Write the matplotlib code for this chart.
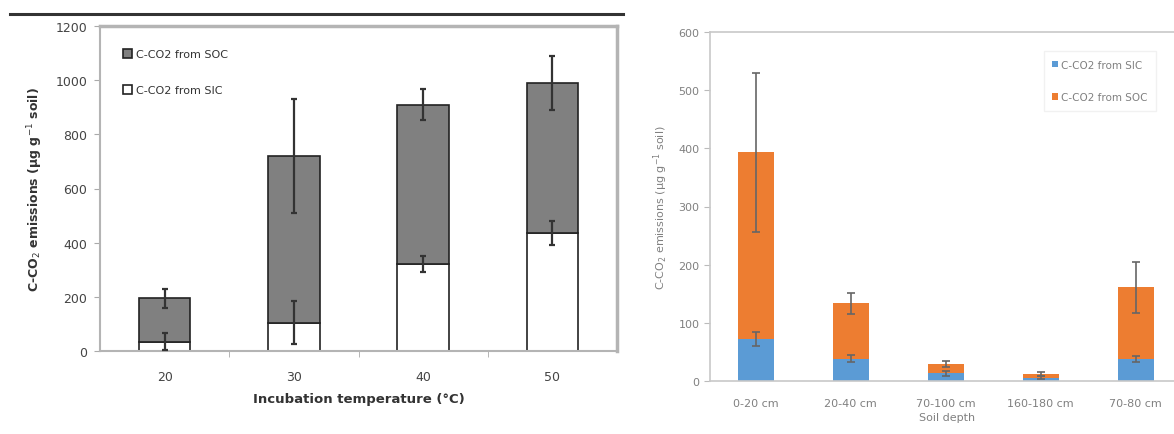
import numpy as np
import matplotlib.pyplot as plt
from matplotlib.lines import Line2D

# left panel: incubation temperature
temps = ["20", "30", "40", "50"]
sic_left = [35, 105, 320, 435]
total_left = [195, 720, 910, 990]
sic_err_left = [30, 80, 30, 45]
total_err_left = [35, 210, 58, 100]
soc_left = [t - s for t, s in zip(total_left, sic_left)]

# right panel: soil depth
depths = ["0-20 cm", "20-40 cm", "70-100 cm", "160-180 cm", "70-80 cm"]
sic_right = [72, 38, 13, 6, 38]
total_right = [393, 134, 29, 12, 161]
sic_err_right = [12, 6, 4, 2, 5]
total_err_right = [137, 18, 5, 3, 44]
soc_right = [t - s for t, s in zip(total_right, sic_right)]

W, H = 1174, 435
fig = plt.figure(figsize=(W / 100, H / 100), dpi=100)

# thick rule above the left panel
fig.add_artist(Line2D([10 / W, 623 / W], [1 - 15 / H, 1 - 15 / H],
                      color="#333333", lw=2.2))

# ---------------- left chart ----------------
ax = fig.add_axes([100 / W, (H - 352) / H, 517 / W, 325 / H])
x = np.arange(len(temps))
bw = 0.4
ax.bar(x, sic_left, bw, color="white", edgecolor="#222222", lw=1.2,
       label="C-CO2 from SIC", zorder=2)
ax.bar(x, soc_left, bw, bottom=sic_left, color="#808080", edgecolor="#222222",
       lw=1.2, label="C-CO2 from SOC", zorder=2)
ax.errorbar(x, total_left, yerr=total_err_left, fmt="none", ecolor="#333333",
            elinewidth=1.6, capsize=2.5, capthick=1.6, zorder=3)
ax.errorbar(x, sic_left, yerr=sic_err_left, fmt="none", ecolor="#333333",
            elinewidth=1.6, capsize=2.5, capthick=1.6, zorder=3)
ax.set_xlim(-0.5, 3.5)
ax.set_ylim(0, 1200)
ax.set_yticks(range(0, 1201, 200))
ax.set_xticks(x)
ax.set_xticklabels(temps)
ax.set_xticks([0.5, 1.5, 2.5], minor=True)
ax.tick_params(axis="x", which="major", length=0, pad=14, labelsize=9,
               labelcolor="#444444")
ax.tick_params(axis="x", which="minor", length=4, color="#aaaaaa", direction="out")
ax.tick_params(axis="y", length=4, color="#aaaaaa", labelsize=9,
               labelcolor="#444444", pad=5)
for s in ax.spines.values():
    s.set_color("#b4b4b4")
    s.set_linewidth(1.5)
ax.spines["top"].set_linewidth(2.5)
ax.spines["right"].set_linewidth(2.5)
ax.set_xlabel("Incubation temperature (°C)", fontsize=9.5, fontweight="bold",
              color="#333333", labelpad=6)
ax.set_ylabel("C-CO$_2$ emissions (μg g$^{-1}$ soil)", fontsize=9,
              fontweight="bold", color="#333333", labelpad=8)
h, l = ax.get_legend_handles_labels()
ax.legend(h[::-1], l[::-1], loc="upper left", frameon=False, fontsize=8,
          labelcolor="#333333", handlelength=0.8, handleheight=0.8,
          handletextpad=0.3, labelspacing=2.3, borderaxespad=1.9,
          borderpad=0.2)

# ---------------- right chart ----------------
blue = "#5B9BD5"
orange = "#ED7D31"
grey = "#808080"
ax2 = fig.add_axes([710 / W, (H - 382) / H, 475 / W, 349 / H])
x2 = np.arange(len(depths))
bw2 = 0.38
ax2.bar(x2, sic_right, bw2, color=blue, label="C-CO2 from SIC", zorder=2)
ax2.bar(x2, soc_right, bw2, bottom=sic_right, color=orange,
        label="C-CO2 from SOC", zorder=2)
ax2.errorbar(x2, total_right, yerr=total_err_right, fmt="none", ecolor="#666666",
             elinewidth=1.2, capsize=3, capthick=1.2, zorder=3)
ax2.errorbar(x2, sic_right, yerr=sic_err_right, fmt="none", ecolor="#666666",
             elinewidth=1.2, capsize=3, capthick=1.2, zorder=3)
ax2.set_xlim(-0.48, 4.52)
ax2.set_ylim(0, 600)
ax2.set_yticks(range(0, 601, 100))
ax2.set_xticks(x2)
ax2.set_xticklabels(depths)
ax2.tick_params(axis="x", length=0, pad=12, labelsize=8, labelcolor=grey)
ax2.tick_params(axis="y", length=4, color="#bbbbbb", labelsize=8,
                labelcolor=grey)
for s in ax2.spines.values():
    s.set_color("#c8c8c8")
    s.set_linewidth(1.2)
ax2.spines["right"].set_visible(False)
ax2.set_xlabel("Soil depth", fontsize=8, color=grey, labelpad=3)
ax2.set_ylabel("C-CO$_2$ emissions (μg g$^{-1}$ soil)", fontsize=8, color=grey,
               labelpad=6)
ax2.legend(loc="upper right", bbox_to_anchor=(0.95, 0.96), fontsize=7.5,
           labelcolor=grey, frameon=True, edgecolor="#eeeeee",
           handlelength=0.6, handleheight=0.6, handletextpad=0.3,
           labelspacing=2.2, fancybox=False, borderpad=0.8)

fig.savefig("out.png", dpi=100)
